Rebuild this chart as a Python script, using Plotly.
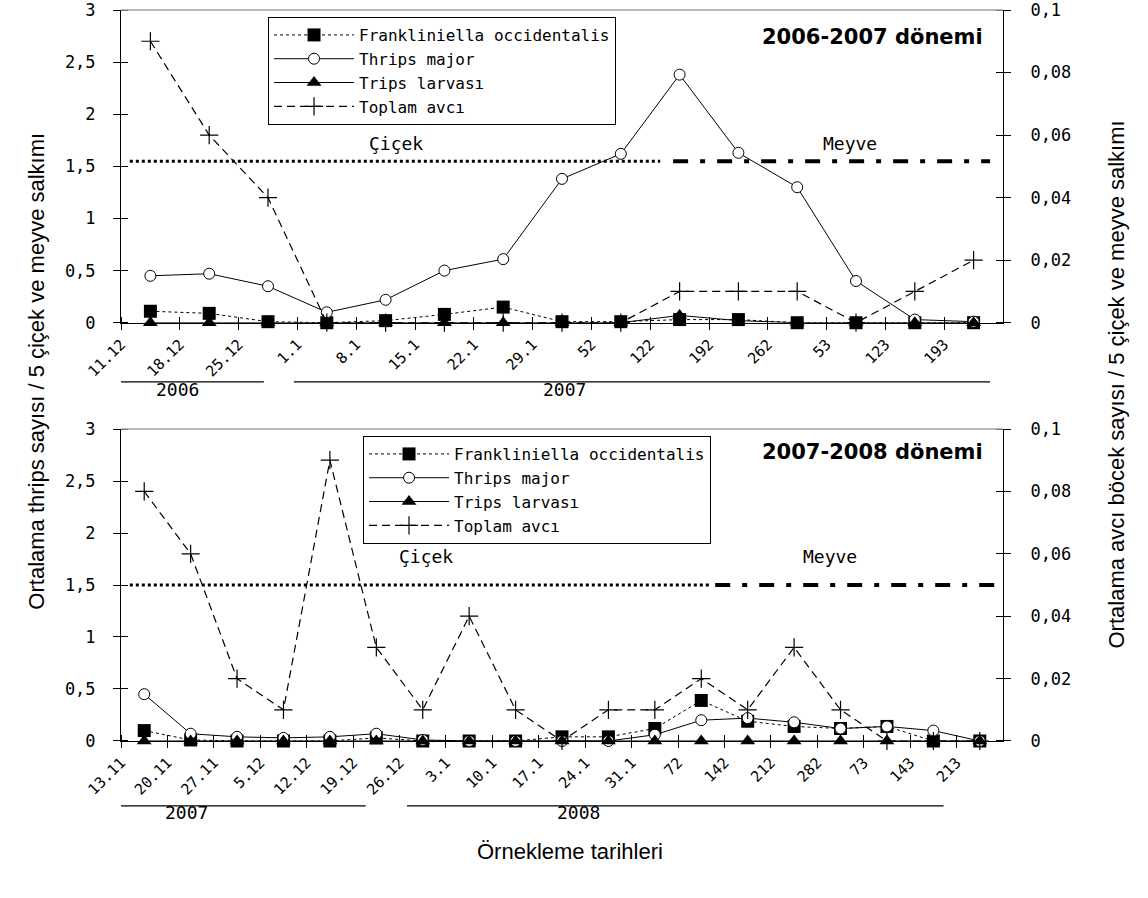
import plotly.graph_objects as go

# ---------------- data ----------------
series_names = ["Frankliniella occidentalis", "Thrips major", "Trips larvası", "Toplam avcı"]

top_dates = ["11.12", "18.12", "25.12", "1.1", "8.1", "15.1", "22.1", "29.1",
             "52", "122", "192", "262", "53", "123", "193"]
top_focc = [0.11, 0.09, 0.01, 0, 0.02, 0.08, 0.15, 0.01, 0.01, 0.03, 0.03, 0, 0, 0, 0]
top_tmajor = [0.45, 0.47, 0.35, 0.10, 0.22, 0.50, 0.61, 1.38, 1.62, 2.38, 1.63, 1.30, 0.40, 0.03, 0.01]
top_larva = [0, 0, 0, 0, 0, 0, 0, 0, 0, 0.07, 0.02, 0, 0, 0, 0]
top_avci = [0.09, 0.06, 0.04, 0, 0, 0, 0, 0, 0, 0.01, 0.01, 0.01, 0, 0.01, 0.02]

bot_dates = ["13.11", "20.11", "27.11", "5.12", "12.12", "19.12", "26.12", "3.1", "10.1",
             "17.1", "24.1", "31.1", "72", "142", "212", "282", "73", "143", "213"]
bot_focc = [0.10, 0.01, 0, 0, 0, 0.03, 0, 0, 0, 0.04, 0.04, 0.12, 0.39, 0.19, 0.14, 0.12, 0.14, 0, 0]
bot_tmajor = [0.45, 0.07, 0.04, 0.03, 0.04, 0.07, 0.01, 0, 0, 0, 0, 0.06, 0.20, 0.22, 0.18, 0.12, 0.14, 0.10, 0]
bot_larva = [0] * 19
bot_avci = [0.08, 0.06, 0.02, 0.01, 0.09, 0.03, 0.01, 0.04, 0.01, 0, 0.01, 0.01, 0.02, 0.01, 0.03, 0.01, 0, 0, 0]

left_ticks = [0, 0.5, 1, 1.5, 2, 2.5, 3]
left_ticktext = ["0", "0,5", "1", "1,5", "2", "2,5", "3"]
right_ticks = [0, 0.02, 0.04, 0.06, 0.08, 0.1]
right_ticktext = ["0", "0,02", "0,04", "0,06", "0,08", "0,1"]

titles = ["2006-2007 dönemi", "2007-2008 dönemi"]
phase_labels = ["Çiçek", "Meyve"]
year_labels_top = ["2006", "2007"]
year_labels_bot = ["2007", "2008"]
ytitle_left = "Ortalama thrips sayısı / 5 çiçek ve meyve salkımı"
ytitle_right = "Ortalama avcı böcek sayısı / 5 çiçek ve meyve salkımı"
xtitle = "Örnekleme tarihleri"

# ---------------- styling ----------------
MONO = "DejaVu Sans Mono"
SANS = "Liberation Sans, Arial"
BLACK = "black"

fig = go.Figure()

def add_panel(dates, focc, tmajor, larva, avci, xa, ya, ya2, legend):
    xs = list(range(len(dates)))
    specs = [
        (focc, dict(color=BLACK, width=1, dash="dot"),
         dict(symbol="square", size=13, color=BLACK), ya),
        (tmajor, dict(color=BLACK, width=1),
         dict(symbol="circle", size=11, color="white", line=dict(color=BLACK, width=1)), ya),
        (larva, dict(color=BLACK, width=1),
         dict(symbol="triangle-up", size=13, color=BLACK), ya),
        (avci, dict(color=BLACK, width=1.2, dash="8px,5px"),
         dict(symbol="cross-thin", size=13, color=BLACK, line=dict(color=BLACK, width=1.2)), ya2),
    ]
    for name, (vals, line, marker, yax) in zip(series_names, specs):
        fig.add_trace(go.Scatter(
            x=xs, y=vals, name=name, mode="lines+markers",
            line=line, marker=marker, xaxis=xa, yaxis=yax,
            legend=legend, cliponaxis=False, showlegend=True))

add_panel(top_dates, top_focc, top_tmajor, top_larva, top_avci, "x", "y", "y2", "legend")
add_panel(bot_dates, bot_focc, bot_tmajor, bot_larva, bot_avci, "x2", "y3", "y4", "legend2")

# phase reference lines (Çiçek dotted, Meyve dash-dot)
phase_top = dict(y=1.55, flower=(-0.35, 8.67), fruit=(8.89, 14.28))
phase_bot = dict(y=1.5, flower=(-0.31, 12.19), fruit=(12.3, 18.4))
for ph, xa, ya in [(phase_top, "x", "y"), (phase_bot, "x2", "y3")]:
    fig.add_trace(go.Scatter(x=list(ph["flower"]), y=[ph["y"]] * 2, mode="lines",
                             line=dict(color=BLACK, width=3, dash="dot"),
                             xaxis=xa, yaxis=ya, showlegend=False, hoverinfo="skip"))
    fig.add_trace(go.Scatter(x=list(ph["fruit"]), y=[ph["y"]] * 2, mode="lines",
                             line=dict(color=BLACK, width=4, dash="15px,12px,5px,12px"),
                             xaxis=xa, yaxis=ya, showlegend=False, hoverinfo="skip"))

tick_font = dict(family=MONO, size=17, color=BLACK)
EPS = 1e-6

def xaxis_cfg(dates, anchor):
    n = len(dates)
    tv = [i - 0.5 for i in range(n)]
    return dict(range=[-0.5, n - 0.5], tickmode="array", tickvals=tv, ticktext=dates,
                tickangle=-45, ticks="outside", ticklen=6, tickcolor=BLACK,
                showline=True, linecolor=BLACK, linewidth=1, showgrid=False, zeroline=False,
                tickfont=dict(family=MONO, size=15, color=BLACK), anchor=anchor,
                automargin=False, ticklabeloverflow="allow",
                minor=dict(tickmode="array", tickvals=[v + EPS for v in tv],
                           ticks="inside", ticklen=6, tickcolor=BLACK, showgrid=False),
                domain=[0, 1], fixedrange=True)

def yleft_cfg(domain, anchor):
    return dict(range=[0, 3], tickmode="array", tickvals=left_ticks, ticktext=left_ticktext,
                ticks="outside", ticklen=7, tickcolor=BLACK, showline=True, linecolor=BLACK,
                linewidth=1, showgrid=False, zeroline=False, tickfont=tick_font,
                ticklabelstandoff=14, domain=domain, anchor=anchor, automargin=False,
                ticklabeloverflow="allow", fixedrange=True,
                minor=dict(tickmode="array", tickvals=[v + EPS for v in left_ticks],
                           ticks="inside", ticklen=7, tickcolor=BLACK, showgrid=False))

def yright_cfg(over, anchor):
    return dict(range=[0, 0.1], tickmode="array", tickvals=right_ticks, ticktext=right_ticktext,
                ticks="outside", ticklen=7, tickcolor=BLACK, showline=True, linecolor=BLACK,
                linewidth=1, showgrid=False, zeroline=False, tickfont=tick_font,
                ticklabelstandoff=16, overlaying=over, side="right", anchor=anchor,
                automargin=False, ticklabeloverflow="allow", fixedrange=True,
                minor=dict(tickmode="array", tickvals=[v + EPS * 0.03 for v in right_ticks],
                           ticks="inside", ticklen=7, tickcolor=BLACK, showgrid=False))

top_dom = [0.5722, 1.0]
bot_dom = [0.0, 0.4268]

legend_style = dict(bgcolor="white", bordercolor=BLACK, borderwidth=1,
                    font=dict(family=MONO, size=16, color=BLACK),
                    xanchor="left", yanchor="top", itemwidth=80,
                    tracegroupgap=0)

fig.update_layout(
    width=1148, height=898,
    margin=dict(l=121, r=145, t=10, b=157, autoexpand=False),
    paper_bgcolor="white", plot_bgcolor="white",
    showlegend=True,
    xaxis=xaxis_cfg(top_dates, "y"),
    yaxis=yleft_cfg(top_dom, "x"),
    yaxis2=yright_cfg("y", "x"),
    xaxis2=xaxis_cfg(bot_dates, "y3"),
    yaxis3=yleft_cfg(bot_dom, "x2"),
    yaxis4=yright_cfg("y3", "x2"),
    legend=dict(x=0.1667, y=0.9904, **legend_style),
    legend2=dict(x=0.2744, y=0.4172, **legend_style),
)

# gray top border of each plot area
for xr, yr in [("x domain", "y domain"), ("x2 domain", "y3 domain")]:
    fig.add_shape(type="line", xref=xr, yref=yr, x0=0, x1=1, y0=1, y1=1,
                  line=dict(color="#a0a0a0", width=1.5))

# year bracket lines under the date labels
year_lines_top = [(-0.5, 1.93), (2.44, 14.28)]
year_lines_bot = [(-0.5, 4.77), (5.66, 17.22)]
for (x0, x1) in year_lines_top:
    fig.add_shape(type="line", xref="x", yref="y domain", x0=x0, x1=x1, y0=-0.189, y1=-0.189,
                  line=dict(color=BLACK, width=1.2))
for (x0, x1) in year_lines_bot:
    fig.add_shape(type="line", xref="x2", yref="y3 domain", x0=x0, x1=x1, y0=-0.208, y1=-0.208,
                  line=dict(color=BLACK, width=1.2))

ann_font = dict(family=MONO, size=18, color=BLACK)
for lbl, xv in zip(year_labels_top, [0.46, 7.05]):
    fig.add_annotation(text=lbl, x=xv, y=-0.2545, xref="x", yref="y domain",
                       showarrow=False, font=ann_font)
for lbl, xv in zip(year_labels_bot, [0.91, 9.35]):
    fig.add_annotation(text=lbl, x=xv, y=-0.269, xref="x2", yref="y3 domain",
                       showarrow=False, font=ann_font)

# phase labels
for lbl, xv in zip(phase_labels, [4.17, 11.9]):
    fig.add_annotation(text=lbl, x=xv, y=1.72, xref="x", yref="y", showarrow=False, font=ann_font)
for lbl, xv in zip(phase_labels, [6.07, 14.78]):
    fig.add_annotation(text=lbl, x=xv, y=1.77, xref="x2", yref="y3", showarrow=False, font=ann_font)

# panel titles
title_font = dict(family="DejaVu Sans", size=21, color=BLACK)
fig.add_annotation(text="<b>%s</b>" % titles[0], x=0.9796, y=0.963, xref="paper", yref="paper",
                   xanchor="right", yanchor="middle", showarrow=False, font=title_font)
fig.add_annotation(text="<b>%s</b>" % titles[1], x=0.9796, y=0.3953, xref="paper", yref="paper",
                   xanchor="right", yanchor="middle", showarrow=False, font=title_font)

# axis titles
axt_font = dict(family=SANS, size=22, color=BLACK)
fig.add_annotation(text=ytitle_left, x=-0.1122, y=0.506, xref="paper", yref="paper",
                   textangle=-90, showarrow=False, font=axt_font)
fig.add_annotation(text=ytitle_right, x=1.144, y=0.487, xref="paper", yref="paper",
                   textangle=-90, showarrow=False, font=axt_font)
fig.add_annotation(text=xtitle, x=0.509, y=-0.171, xref="paper", yref="paper",
                   showarrow=False, font=axt_font)

# remove the default 8px page margin so the figure fills the window exactly
fig.write_html("out.html", config={"displayModeBar": False},
               post_script="document.body.style.margin='0px';")
